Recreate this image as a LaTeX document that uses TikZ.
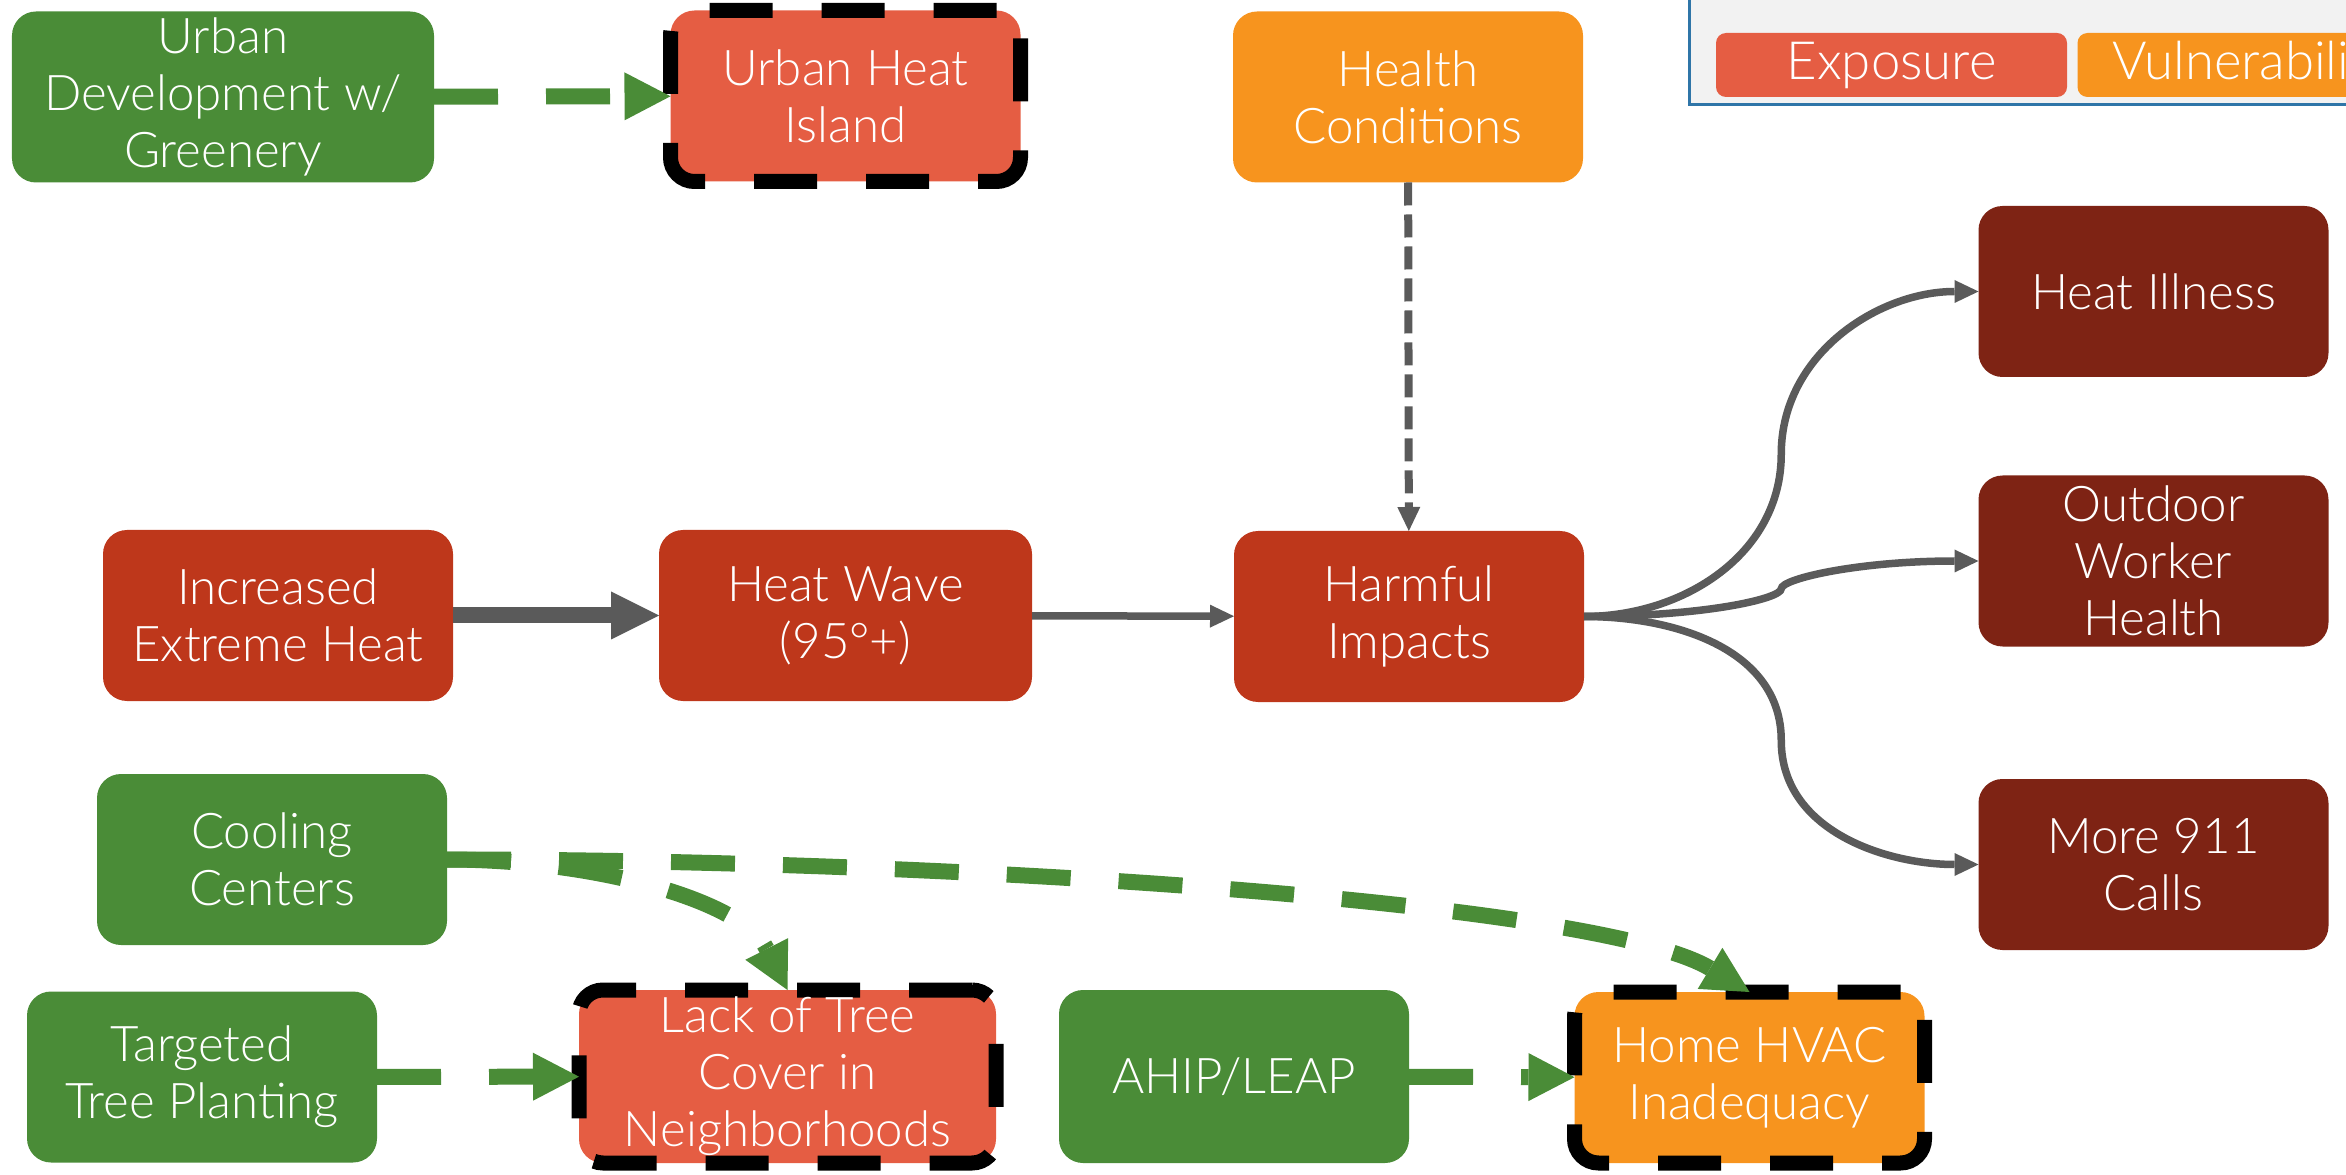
\documentclass[tikz,border=0pt]{standalone}
\usepackage{fontspec}
\setmainfont{Lato Light}
\usetikzlibrary{arrows.meta,calc}

\definecolor{mitig}{HTML}{4A8C37}
\definecolor{expos}{HTML}{E55D43}
\definecolor{vulner}{HTML}{F7941E}
\definecolor{hazard}{HTML}{BE371B}
\definecolor{impact}{HTML}{7E2314}
\definecolor{link}{HTML}{5A5A5A}
\definecolor{legendbg}{HTML}{F2F2F2}
\definecolor{legendline}{HTML}{2F75A8}

\begin{document}
\begin{tikzpicture}[
 box/.style={rectangle, rounded corners=0.24cm, minimum width=3.5cm, minimum height=1.71cm,
   align=center, text=white, inner sep=0pt, outer sep=0pt, font=\fontsize{14}{16.2}\selectfont},
 greenbox/.style={box, fill=mitig},
 expobox/.style={box, fill=expos},
 vulnbox/.style={box, fill=vulner},
 hazbox/.style={box, fill=hazard},
 outbox/.style={box, fill=impact},
 gapline/.style={draw=black, line width=0.15cm, dash pattern=on 0.63cm off 0.49cm},
 pill/.style={rectangle, rounded corners=0.1cm, minimum width=3.51cm, minimum height=0.64cm,
   inner sep=0pt, text=white, font=\fontsize{15}{17}\selectfont},
 action/.style={draw=mitig, line width=0.16cm, dash pattern=on 0.64cm off 0.48cm,
   -{Triangle[length=0.46cm, width=0.48cm, line width=0pt]}},
 bigarrow/.style={draw=link, line width=0.16cm, -{Triangle[length=0.48cm, width=0.48cm, line width=0pt]}},
 arrow/.style={draw=link, line width=0.075cm, -{Triangle[length=0.24cm, width=0.23cm, line width=0pt]}}
]

\useasboundingbox (0,0) rectangle (23.46,11.74);
\clip (0,0) rectangle (23.46,11.74);

% legend
\draw[fill=legendbg, draw=legendline, line width=0.03cm] (16.89,10.69) rectangle (24,12.5);
\node[pill, fill=expos] (expo) at (18.915,11.09) {Exposure};
\node[pill, fill=vulner] (vuln) at (22.53,11.09) {Vulnerability};

% top row
\node[greenbox, minimum width=4.22cm] (urbdev) at (2.23,10.77) {Urban\\Development w/\\Greenery};
\node[expobox, gapline] (uhi) at (8.455,10.78) {Urban Heat\\Island};
\node[vulnbox] (health) at (14.08,10.77) {Health\\Conditions};

% main chain
\node[hazbox] (incr) at (2.78,5.585) {Increased\\Extreme Heat};
\node[hazbox, minimum width=3.73cm] (wave) at (8.455,5.585) {Heat Wave\\(95°+)};
\node[hazbox] (harm) at (14.09,5.575) {Harmful\\Impacts};

% outcomes
\node[outbox] (illness) at (21.535,8.825) {Heat Illness};
\node[outbox] (outdoor) at (21.535,6.13) {Outdoor\\Worker\\Health};
\node[outbox] (calls) at (21.535,3.095) {More 911\\Calls};

% bottom rows
\node[greenbox] (cooling) at (2.72,3.145) {Cooling\\Centers};
\node[greenbox] (planting) at (2.02,0.97) {Targeted\\Tree Planting};
\node[expobox, gapline, minimum width=4.17cm, minimum height=1.73cm] (lack) at (7.875,0.975) {Lack of Tree\\Cover in\\Neighborhoods};
\node[greenbox, minimum height=1.73cm] (ahip) at (12.34,0.975) {AHIP/LEAP};
\node[vulnbox, gapline] (hvac) at (17.495,0.965) {Home HVAC\\Inadequacy};

% arrows
\draw[bigarrow] (incr) -- (wave);
\draw[arrow] (wave) -- (harm);
\draw[arrow, line width=0.08cm, dash pattern=on 0.23cm off 0.09cm] (health) -- (harm);

\coordinate (m1) at ($(harm.east)!0.5!(illness.west)$);
\coordinate (m2) at ($(harm.east)!0.5!(outdoor.west)$);
\coordinate (m3) at ($(harm.east)!0.5!(calls.west)$);
\draw[arrow] (harm.east) to[out=0,in=-90] (m1) to[out=90,in=180] (illness.west);
\draw[arrow] (harm.east) to[out=0,in=-90,out distance=1.2cm,in distance=0.1cm] (m2)
  to[out=90,in=180,out distance=0.1cm,in distance=1.2cm] (outdoor.west);
\draw[arrow] (harm.east) to[out=0,in=90] (m3) to[out=-90,in=180] (calls.west);

% mitigations
\draw[action] (urbdev) -- (uhi);
\draw[action] (planting) -- (lack);
\draw[action] (ahip) -- (hvac);
\draw[action] (cooling.east) .. controls +(1.5,0) and +(-0.45,0.89) .. (lack.north);
\draw[action] (cooling.east) .. controls +(5.1,0) and +(-1.5,0.9) .. (hvac.north);

\end{tikzpicture}
\end{document}
